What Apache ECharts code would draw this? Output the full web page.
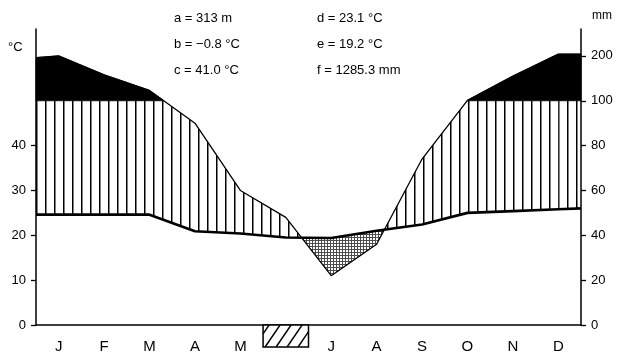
<!DOCTYPE html>
<html><head><meta charset="utf-8">
<script src="https://cdn.jsdelivr.net/npm/echarts@6/dist/echarts.min.js"></script>
<style>html,body{margin:0;padding:0;background:#fff}#c{width:618px;height:356px}</style>
</head><body><div id="c"></div>
<script>
// ---- data ----
const months = ['J','F','M','A','M','J','J','A','S','O','N','D'];
const tempC = [24.6, 24.6, 24.6, 20.9, 20.4, 19.5, 19.4, 21.0, 22.4, 25.0, 25.4, 25.8];
const precipMM = [200, 158, 123, 90, 60, 48, 22, 36, 74, 101, 155, 204];
const tempEdges = [24.6, 26.0];      // value of the curve at the left / right frame
const precipEdges = [196, 204];
const frostMonths = [6];             // month number(s) with the hatched bar
const leftTicks = [0, 10, 20, 30, 40];
const rightTicksMM = [0, 20, 40, 60, 80, 100, 200];
const infoLeft = ['a = 313 m', 'b = −0.8 °C', 'c = 41.0 °C'];
const infoRight = ['d = 23.1 °C', 'e = 19.2 °C', 'f = 1285.3 mm'];

// mm -> temperature units (20 mm = 10 °C, above 100 mm compressed: 100 mm = 10 °C)
const mmToU = v => v <= 100 ? v / 2 : 50 + (v - 100) / 10;
const uToMM = u => u <= 50 ? u * 2 : 100 + (u - 50) * 10;

const xs = [0].concat(months.map((m, i) => i + 0.5)).concat([12]);
const tU = [tempEdges[0]].concat(tempC).concat([tempEdges[1]]);
const pU = [precipEdges[0]].concat(precipMM).concat([precipEdges[1]]).map(mmToU);
const pts = xs.map((x, i) => ({x: x, t: tU[i], p: pU[i]}));

// patterns
function makeHatch() {
  const c = document.createElement('canvas'); c.width = 9; c.height = 4;
  const g = c.getContext('2d');
  g.fillStyle = '#000'; g.fillRect(0, 0, 1, 4);
  g.fillStyle = 'rgba(0,0,0,0.5)'; g.fillRect(1, 0, 1, 4);
  return {image: c, repeat: 'repeat'};
}
function makeDots() {
  const c = document.createElement('canvas'); c.width = 3; c.height = 3;
  const g = c.getContext('2d');
  g.fillStyle = 'rgba(0,0,0,0.7)';
  g.fillRect(0, 0, 3, 1); g.fillRect(0, 1, 1, 2);
  return {image: c, repeat: 'repeat'};
}
const hatchPattern = makeHatch();
const dotPattern = makeDots();

// all fills drawn in one pass so that contiguous regions are single polygons
function renderFill(params, api) {
  if (params.dataIndex !== 0) return null;
  const children = [];
  const blackTop = [], blackBot = [];
  const flushBlack = () => {
    if (blackTop.length > 1) {
      const ptsPx = blackTop.concat(blackBot.slice().reverse()).map(v => api.coord(v));
      children.push({type: 'polygon', silent: true, shape: {points: ptsPx},
        style: {fill: '#000', stroke: '#000', lineWidth: 0.8}});
    }
    blackTop.length = 0; blackBot.length = 0;
  };
  const poly = (pairs, fill) => children.push({
    type: 'polygon', silent: true,
    shape: {points: pairs.map(v => api.coord(v))}, style: {fill: fill}
  });
  for (let i = 0; i < pts.length - 1; i++) {
    const a = pts[i], b = pts[i + 1];
    const ss = [0, 1];
    const da = a.p - a.t, db = b.p - b.t;
    if (da * db < 0) ss.push(da / (da - db));
    const ea = a.p - 50, eb = b.p - 50;
    if (ea * eb < 0) ss.push(ea / (ea - eb));
    ss.sort((m, n) => m - n);
    const at = s => ({x: a.x + (b.x - a.x) * s, t: a.t + (b.t - a.t) * s, p: a.p + (b.p - a.p) * s});
    for (let k = 0; k < ss.length - 1; k++) {
      const s0 = ss[k], s1 = ss[k + 1];
      if (s1 - s0 < 1e-9) continue;
      const q0 = at(s0), q1 = at(s1), qm = at((s0 + s1) / 2);
      if (qm.p > qm.t) {
        poly([[q0.x, q0.t], [q1.x, q1.t], [q1.x, Math.min(q1.p, 50)], [q0.x, Math.min(q0.p, 50)]], hatchPattern);
      } else {
        poly([[q0.x, q0.p], [q1.x, q1.p], [q1.x, q1.t], [q0.x, q0.t]], dotPattern);
      }
      if (qm.p > 50) {
        if (!blackTop.length) { blackTop.push([q0.x, q0.p]); blackBot.push([q0.x, 50]); }
        blackTop.push([q1.x, q1.p]); blackBot.push([q1.x, 50]);
      } else {
        flushBlack();
      }
    }
  }
  flushBlack();
  return {type: 'group', children: children};
}

function renderFrost(params, api) {
  const m = frostMonths[params.dataIndex];
  const p0 = api.coord([m - 1, 0]), p1 = api.coord([m, 0]);
  const x0 = p0[0], x1 = p1[0], yt = p0[1], h = 22, yb = yt + h, dx = 15;
  const children = [{type: 'rect', shape: {x: x0, y: yt, width: x1 - x0, height: h},
    style: {fill: '#fff', stroke: '#000', lineWidth: 1.5}}];
  for (let k = -2; k < 6; k++) {
    const xb = x0 + 2 + k * 11;
    const u0 = Math.max(0, (x0 - xb) / dx), u1 = Math.min(1, (x1 - xb) / dx);
    if (u1 <= u0) continue;
    children.push({type: 'line', shape: {x1: xb + dx * u0, y1: yb - h * u0, x2: xb + dx * u1, y2: yb - h * u1},
      style: {stroke: '#000', lineWidth: 1.4}});
  }
  return {type: 'group', children: children};
}

const font = 'Liberation Sans';
const textEls = [];
infoLeft.forEach((s, i) => textEls.push({type: 'text', left: 174, top: 12 + i * 26, style: {text: s, font: '13px "' + font + '"', fill: '#000'}}));
infoRight.forEach((s, i) => textEls.push({type: 'text', left: 317, top: 12 + i * 26, style: {text: s, font: '13px "' + font + '"', fill: '#000'}}));
textEls.push({type: 'text', left: 8, top: 41, style: {text: '°C', font: '13px "' + font + '"', fill: '#000'}});
textEls.push({type: 'text', left: 592, top: 10, style: {text: 'mm', font: '12px "' + font + '"', fill: '#000'}});

const chart = echarts.init(document.getElementById('c'), null, {renderer: 'canvas'});
chart.setOption({
  animation: false,
  backgroundColor: '#fff',
  textStyle: {fontFamily: font},
  grid: {left: 36, right: 37, top: 29, bottom: 31, containLabel: false},
  xAxis: [{
    type: 'category', data: months, boundaryGap: true, position: 'bottom',
    axisLine: {lineStyle: {color: '#000', width: 1.5}},
    axisTick: {length: 6, lineStyle: {color: '#000', width: 1.3}},
    axisLabel: {color: '#000', fontSize: 15, margin: 14,
      formatter: (v, idx) => frostMonths.indexOf(idx + 1) >= 0 ? '' : v},
    splitLine: {show: false}
  }, {
    type: 'value', min: 0, max: 12, show: false
  }],
  yAxis: [{
    type: 'value', min: 0, max: 66, interval: 10, position: 'left',
    axisLine: {show: true, lineStyle: {color: '#000', width: 1.5}},
    axisTick: {show: true, length: 5, customValues: leftTicks, lineStyle: {color: '#000', width: 1.3}},
    axisLabel: {color: '#000', fontSize: 13, margin: 10, customValues: leftTicks,
      formatter: v => leftTicks.indexOf(v) >= 0 ? String(v) : ''},
    splitLine: {show: false}
  }, {
    type: 'value', min: 0, max: 66, interval: 10, position: 'right',
    axisLine: {show: true, lineStyle: {color: '#000', width: 1.5}},
    axisTick: {show: true, length: 5, customValues: rightTicksMM.map(mmToU), lineStyle: {color: '#000', width: 1.3}},
    axisLabel: {color: '#000', fontSize: 13, margin: 10, customValues: rightTicksMM.map(mmToU),
      formatter: v => rightTicksMM.indexOf(uToMM(v)) >= 0 ? String(uToMM(v)) : ''},
    splitLine: {show: false}
  }],
  graphic: textEls,
  series: [{
    type: 'custom', xAxisIndex: 1, yAxisIndex: 0, z: 1,
    data: pts.map(q => [q.x, q.t, q.p]), encode: {x: 0, y: 1},
    renderItem: renderFill
  }, {
    type: 'line', xAxisIndex: 1, yAxisIndex: 0, z: 3, symbol: 'none',
    data: xs.map((x, i) => [x, pU[i]]),
    lineStyle: {color: '#000', width: 1.3}
  }, {
    type: 'line', xAxisIndex: 1, yAxisIndex: 0, z: 4, symbol: 'none',
    data: xs.map((x, i) => [x, tU[i]]),
    lineStyle: {color: '#000', width: 2.6}
  }, {
    type: 'custom', xAxisIndex: 1, yAxisIndex: 0, z: 5, clip: false,
    data: frostMonths.map(m => [m - 0.5, 0]), encode: {x: 0, y: 1},
    renderItem: renderFrost
  }]
});
</script></body></html>
